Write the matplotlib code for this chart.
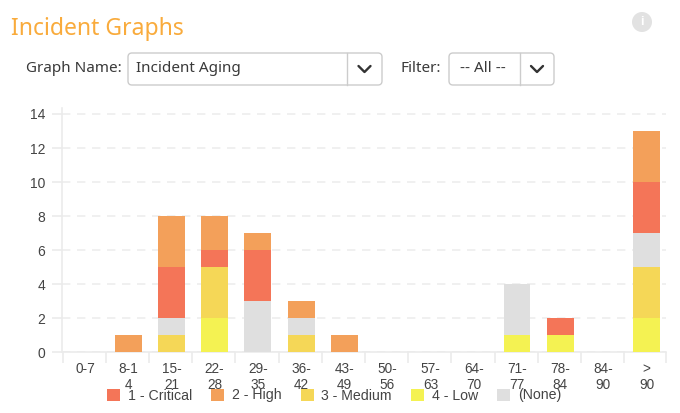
import matplotlib
matplotlib.use("Agg")
import matplotlib.pyplot as plt
from matplotlib.patches import FancyBboxPatch, Circle
import numpy as np

# Data
age_buckets = ["0-7", "8-1\n4", "15-\n21", "22-\n28", "29-\n35", "36-\n42", "43-\n49",
               "50-\n56", "57-\n63", "64-\n70", "71-\n77", "78-\n84", "84-\n90", ">\n90"]
low = [0, 0, 0, 2, 0, 0, 0, 0, 0, 0, 1, 1, 0, 2]
medium = [0, 0, 1, 3, 0, 1, 0, 0, 0, 0, 0, 0, 0, 3]
none = [0, 0, 1, 0, 3, 1, 0, 0, 0, 0, 3, 0, 0, 2]
critical = [0, 0, 3, 1, 3, 0, 0, 0, 0, 0, 0, 1, 0, 3]
high = [0, 1, 3, 2, 1, 1, 1, 0, 0, 0, 0, 0, 0, 3]
y_ticks = [0, 2, 4, 6, 8, 10, 12, 14]

W, H = 680, 413
TEXT = "#444444"
UI_FONT = "Noto Sans"
plt.rcParams["font.family"] = "Liberation Sans"

fig = plt.figure(figsize=(W / 100, H / 100), dpi=100, facecolor="white")

# Header controls, in pixel coordinates
ui = fig.add_axes([0, 0, 1, 1])
ui.set_xlim(0, W)
ui.set_ylim(H, 0)
ui.axis("off")

ui.text(11, 29, "Incident Graphs", color="#F9AB3C", fontsize=16.5, family=UI_FONT, va="center")
ui.text(26, 68.5, "Graph Name:", color="#3A3A3A", fontsize=11, family=UI_FONT, va="center")
ui.text(401, 68.5, "Filter:", color="#3A3A3A", fontsize=11, family=UI_FONT, va="center")


def dropdown(x0, x1, divider, label, text_x):
    ui.add_patch(FancyBboxPatch((x0, 53), x1 - x0, 32, boxstyle="round,pad=0,rounding_size=4",
                                fc="white", ec="#CCCCCC", lw=1))
    ui.plot([divider, divider], [53, 85], color="#CCCCCC", lw=1)
    ui.text(text_x, 69, label, color="#3A3A3A", fontsize=11, family=UI_FONT, va="center")
    cx = (divider + x1) / 2
    ui.plot([cx - 6, cx, cx + 6], [66, 72, 66], color="#333333", lw=1.7, solid_capstyle="round")


dropdown(128, 382, 347, "Incident Aging", 136)
dropdown(449, 554, 520, "-- All --", 460)

ui.add_patch(Circle((642, 22), 10, fc="#E2E2E2", ec="none"))
ui.text(642, 22, "i", color="white", fontsize=9, fontweight="bold", ha="center", va="center")

# Chart
ax = fig.add_axes([62 / W, 1 - 352.3 / H, 604 / W, 244.3 / H])
ax.patch.set_alpha(0)
x = np.arange(len(age_buckets))
series = [
    ("4 - Low", low, "#F4F252"),
    ("3 - Medium", medium, "#F5D757"),
    ("(None)", none, "#DFDFDF"),
    ("1 - Critical", critical, "#F47558"),
    ("2 - High", high, "#F3A05A"),
]
bottom = np.zeros(len(x))
handles = {}
for name, values, color in series:
    handles[name] = ax.bar(x, values, width=0.625, bottom=bottom, color=color, label=name, zorder=3)
    bottom += np.array(values)

ax.set_xlim(-0.535, 13.45)
ax.set_ylim(0, 14.35)
ax.set_yticks(y_ticks)
ax.set_xticks(x)
ax.set_xticklabels(age_buckets, fontsize=9.8, color=TEXT, linespacing=1.2)
ax.set_xticks(np.append(x - 0.52, 13.45), minor=True)
ax.tick_params(axis="x", which="major", length=0, pad=7)
ax.tick_params(axis="x", which="minor", length=8, width=1.2, color="#EBEBEB")
ax.tick_params(axis="y", length=7, width=1.2, color="#EBEBEB", pad=5, labelsize=10, labelcolor=TEXT)

ax.grid(axis="y", color="#EDEDED", lw=1.2, linestyle=(0, (5, 4)), zorder=0)
ax.set_axisbelow(True)
for side in ["top", "right"]:
    ax.spines[side].set_visible(False)
for side in ["left", "bottom"]:
    ax.spines[side].set_color("#EBEBEB")
    ax.spines[side].set_linewidth(1.2)

legend_order = ["1 - Critical", "2 - High", "3 - Medium", "4 - Low", "(None)"]
leg = fig.legend([handles[n] for n in legend_order], legend_order, ncol=5, frameon=False,
                 loc="center", bbox_to_anchor=(334 / W, 1 - 395.5 / H),
                 prop={"family": "Liberation Sans", "size": 10.2},
                 handlelength=0.92, handleheight=0.92, handletextpad=0.55, columnspacing=1.35,
                 labelcolor=TEXT, borderpad=0, borderaxespad=0)

fig.savefig("out.png", dpi=100)
